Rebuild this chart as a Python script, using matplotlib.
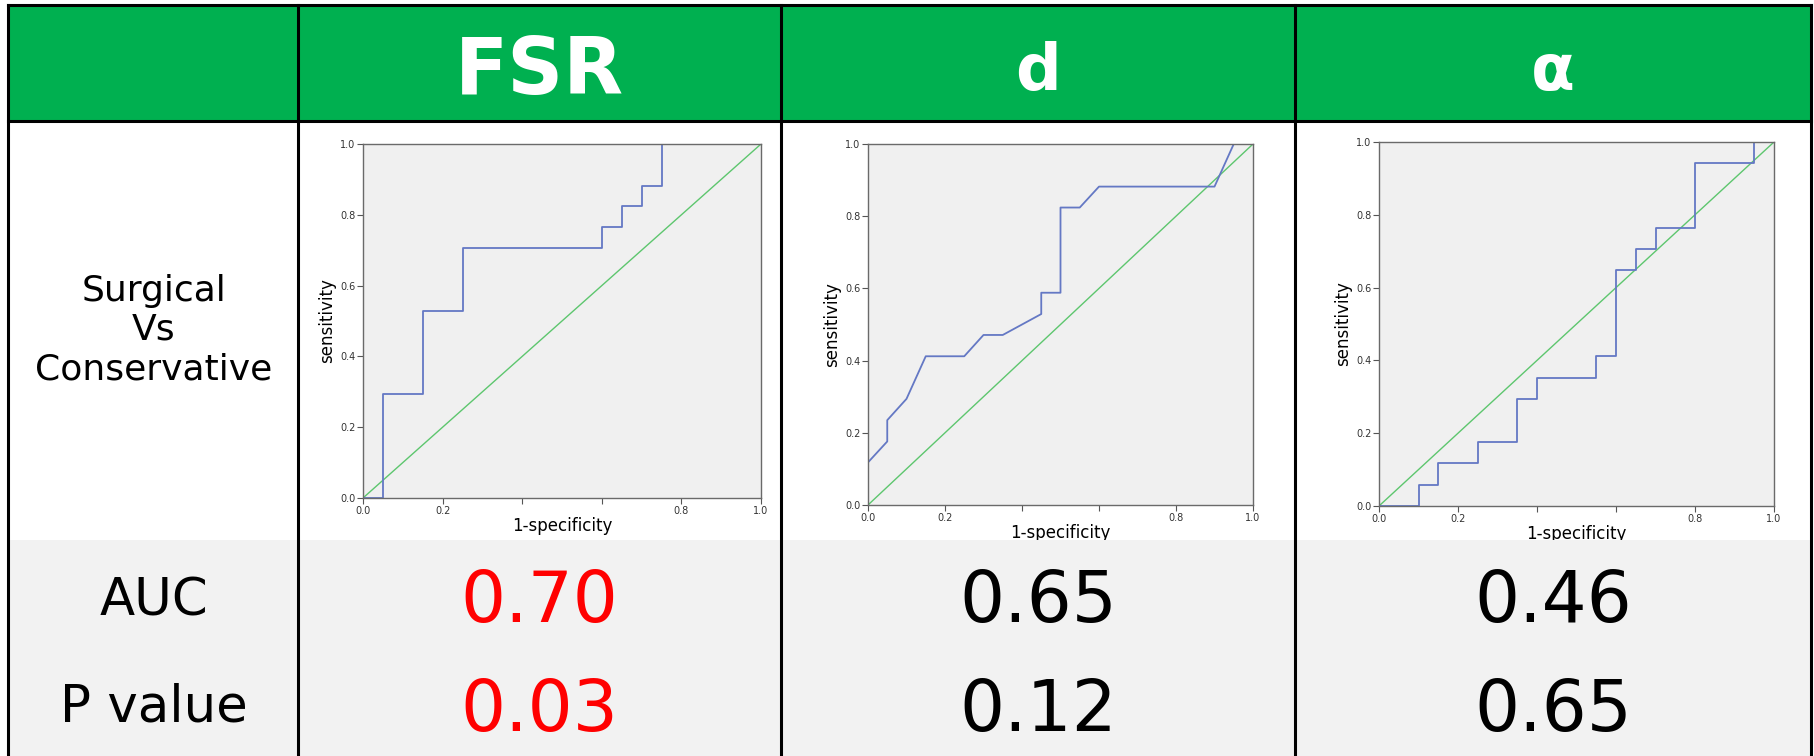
import matplotlib.pyplot as plt
from matplotlib.patches import Rectangle
from matplotlib.lines import Line2D

# column headers and row labels
headers = ["FSR", "d", "α"]
row_label_roc = "Surgical\nVs\nConservative"
row_labels = ["AUC", "P value"]
auc_values = ["0.70", "0.65", "0.46"]
p_values = ["0.03", "0.12", "0.65"]
value_colors = ["#FF0000", "#000000", "#000000"]

# ROC curves (1-specificity, sensitivity)
fsr_fpr = [0.0, 0.05, 0.05, 0.15, 0.15, 0.25, 0.25, 0.60, 0.60, 0.65, 0.65, 0.70, 0.70, 0.75, 0.75, 1.0]
fsr_tpr = [0.0, 0.0, 0.294, 0.294, 0.529, 0.529, 0.706, 0.706, 0.765, 0.765, 0.824, 0.824, 0.882, 0.882, 1.0, 1.0]

d_fpr = [0.0, 0.0, 0.05, 0.05, 0.10, 0.15, 0.25, 0.30, 0.35, 0.45, 0.45, 0.50, 0.50, 0.55, 0.60, 0.90, 0.95, 1.0]
d_tpr = [0.0, 0.118, 0.176, 0.235, 0.294, 0.412, 0.412, 0.471, 0.471, 0.529, 0.588, 0.588, 0.824, 0.824, 0.882, 0.882, 1.0, 1.0]

a_fpr = [0.0, 0.10, 0.10, 0.15, 0.15, 0.25, 0.25, 0.35, 0.35, 0.40, 0.40, 0.55, 0.55, 0.60, 0.60,
         0.65, 0.65, 0.70, 0.70, 0.80, 0.80, 0.95, 0.95, 1.0]
a_tpr = [0.0, 0.0, 0.059, 0.059, 0.118, 0.118, 0.176, 0.176, 0.294, 0.294, 0.353, 0.353, 0.412, 0.412, 0.647,
         0.647, 0.706, 0.706, 0.765, 0.765, 0.941, 0.941, 1.0, 1.0]

curves = [(fsr_fpr, fsr_tpr), (d_fpr, d_tpr), (a_fpr, a_tpr)]
ticks = [0.0, 0.2, 0.4, 0.6, 0.8, 1.0]
tick_labels = ["0.0", "0.2", "", "", "0.8", "1.0"]

W, H = 1814, 756
fig = plt.figure(figsize=(W / 100, H / 100), dpi=100)
fig.patch.set_facecolor("white")

def fx(px):
    return px / W

def fy(py):
    return 1 - py / H

col_edges = [8, 298, 781, 1295, 1811]
top, head_bot, white_bot = 5, 121, 540
green = "#00B050"
grey = "#F2F2F2"

# header band
fig.add_artist(Rectangle((fx(col_edges[0]), fy(head_bot)), fx(col_edges[-1] - col_edges[0]),
                         (head_bot - top) / H, transform=fig.transFigure,
                         facecolor=green, edgecolor="none", zorder=-1))

# ROC panels, placed where the screenshots sit
axes_px = [(363, 144, 761, 498), (868, 144, 1253, 505), (1379, 142, 1774, 506)]
for (x0, y0, x1, y1), (xs, ys) in zip(axes_px, curves):
    ax = fig.add_axes([fx(x0), fy(y1), fx(x1 - x0), (y1 - y0) / H], zorder=0)
    ax.set_facecolor("#F0F0F0")
    ax.plot([0, 1], [0, 1], color="#5DC66E", lw=1.0)
    ax.plot(xs, ys, color="#6478C4", lw=1.3)
    ax.set_xlim(0, 1)
    ax.set_ylim(0, 1)
    ax.set_xticks(ticks)
    ax.set_xticklabels(tick_labels)
    ax.set_yticks(ticks)
    ax.set_yticklabels(["0.0", "0.2", "0.4", "0.6", "0.8", "1.0"])
    ax.tick_params(labelsize=7, length=4, width=0.8, color="#555555", labelcolor="#333333", pad=1.5)
    for sp in ax.spines.values():
        sp.set_color("#6A6A6A")
        sp.set_linewidth(1.0)
    ax.set_xlabel("1-specificity", fontsize=12, labelpad=1)
    ax.set_ylabel("sensitivity", fontsize=12, labelpad=3)

# grey results band drawn over the lower edge of the screenshots
fig.add_artist(Rectangle((fx(col_edges[0]), 0), fx(col_edges[-1] - col_edges[0]), fy(white_bot),
                         transform=fig.transFigure, facecolor=grey, edgecolor="none", zorder=1))

# grid lines
lc = "black"
for x in col_edges:
    fig.add_artist(Line2D([fx(x), fx(x)], [0, fy(top)], color=lc, lw=2.2, zorder=4))
for y in [top, head_bot]:
    fig.add_artist(Line2D([fx(col_edges[0]), fx(col_edges[-1])], [fy(y), fy(y)], color=lc, lw=2.2, zorder=4))

# header texts
centers = [(col_edges[i] + col_edges[i + 1]) / 2 for i in range(1, 4)]
head_sizes = [56, 46, 46]
head_base = [94, 90, 90]
for cx, txt, fs, yb in zip(centers, headers, head_sizes, head_base):
    fig.text(fx(cx), fy(yb), txt, color="white", fontsize=fs, fontweight="bold",
             ha="center", va="baseline", zorder=5)

# row labels
lab_x = fx(154)
fig.text(lab_x, fy(330), row_label_roc, fontsize=26, ha="center", va="center",
         linespacing=1.2, zorder=5)
fig.text(lab_x, fy(615), row_labels[0], fontsize=37, ha="center", va="baseline", zorder=5)
fig.text(lab_x, fy(722), row_labels[1], fontsize=37, ha="center", va="baseline", zorder=5)

# values
for cx, auc, pv, c in zip(centers, auc_values, p_values, value_colors):
    fig.text(fx(cx), fy(622), auc, fontsize=51, color=c, ha="center", va="baseline", zorder=5)
    fig.text(fx(cx), fy(731), pv, fontsize=51, color=c, ha="center", va="baseline", zorder=5)

fig.savefig("out.png", dpi=100)
